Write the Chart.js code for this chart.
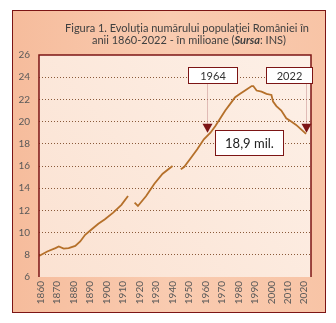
<!DOCTYPE html>
<html>
<head>
<meta charset="utf-8">
<script src="https://cdn.jsdelivr.net/npm/chart.js@4.4.1/dist/chart.umd.min.js"></script>
<style>
  html, body { margin: 0; padding: 0; background: #fff; }
  canvas { display: block; }
</style>
</head>
<body>
<canvas id="popChart" width="336" height="323"></canvas>
<script>
// population (millions) by year; null marks the war gaps
const years = [1860, 1865, 1870, 1872, 1875, 1878, 1882, 1885, 1888, 1892, 1896, 1900, 1905, 1910, 1914,
  1916,
  1918, 1920, 1925, 1930, 1935, 1941,
  1943,
  1946, 1948, 1952, 1956, 1960, 1964, 1967, 1970, 1973, 1976, 1979, 1982, 1985, 1989, 1990,
  1992, 1995, 1998, 2001, 2002, 2004, 2007, 2010, 2013, 2016, 2019, 2022];
const population = [7.9, 8.3, 8.6, 8.75, 8.55, 8.6, 8.8, 9.2, 9.8, 10.3, 10.8, 11.2, 11.8, 12.5, 13.3,
  null,
  12.7, 12.4, 13.3, 14.4, 15.3, 16.0,
  null,
  15.7, 15.9, 16.7, 17.5, 18.4, 19.0, 19.6, 20.3, 21.0, 21.6, 22.2, 22.5, 22.8, 23.2, 23.2,
  22.8, 22.7, 22.5, 22.4, 21.8, 21.4, 21.0, 20.3, 20.0, 19.7, 19.3, 18.9];

const yTicks = [6, 8, 10, 12, 14, 16, 18, 20, 22, 24, 26];
const xTickLabels = ["1860", "1870", "1880", "1890", "1900", "1910", "1920", "1930", "1940",
  "1950", "1960", "1970", "1980", "1990", "2000", "2010", "2020"];
const callouts = [
  { label: "1964", year: 1962, value: 18.9 },
  { label: "2022", year: 2022, value: 18.9 },
];
const lastValueLabel = "18,9 mil.";

const FONT = "Lato, 'Open Sans', sans-serif";
const DARK_RED = "#7c1515";

const points = years.map((y, i) => ({ x: y, y: population[i] }));

const framePlugin = {
  id: "frame",
  beforeDraw(chart) {
    const { ctx, chartArea: a } = chart;
    ctx.save();
    ctx.fillStyle = "#fff";
    ctx.fillRect(0, 0, chart.width, chart.height);

    // outer box
    const g = ctx.createLinearGradient(12, 0, 326, 0);
    g.addColorStop(0, "#f6bc9c");
    g.addColorStop(0.5, "#f9cbb0");
    g.addColorStop(1, "#f8c4a6");
    ctx.fillStyle = g;
    ctx.fillRect(12.5, 10.5, 313, 302);
    ctx.strokeStyle = DARK_RED;
    ctx.lineWidth = 1;
    ctx.strokeRect(12.5, 10.5, 313, 302);

    // plot area
    const pg = ctx.createLinearGradient(a.left, a.bottom, a.right, a.top);
    pg.addColorStop(0, "#fbe2d2");
    pg.addColorStop(1, "#fdf0e7");
    ctx.fillStyle = pg;
    ctx.fillRect(a.left, a.top, a.right - a.left, a.bottom - a.top);
    ctx.restore();
  },
  afterDraw(chart) {
    const { ctx, chartArea: a, scales } = chart;
    ctx.save();

    // plot frame: left, top, right
    ctx.strokeStyle = DARK_RED;
    ctx.lineWidth = 1.5;
    ctx.beginPath();
    ctx.moveTo(a.left, a.bottom);
    ctx.lineTo(a.left, a.top);
    ctx.lineTo(a.right, a.top);
    ctx.lineTo(a.right, a.bottom);
    ctx.stroke();

    // vertical year labels under the axis
    ctx.fillStyle = "#595959";
    ctx.font = "10px " + FONT;
    ctx.textAlign = "right";
    ctx.textBaseline = "middle";
    xTickLabels.forEach(lbl => {
      const x = scales.x.getPixelForValue(Number(lbl)) + 1.5;
      ctx.save();
      ctx.translate(x, a.bottom + 4);
      ctx.rotate(-Math.PI / 2);
      ctx.fillText(lbl, 0, 0);
      ctx.restore();
    });

    // callouts with arrows
    ctx.font = "11px " + FONT;
    ctx.textAlign = "center";
    ctx.textBaseline = "middle";
    callouts.forEach(c => {
      const x = Math.round(scales.x.getPixelForValue(c.year)) + 0.5;
      const tipY = scales.y.getPixelForValue(c.value) - 1;
      const boxW = c.label === "2022" ? 46 : 49;
      const boxL = c.label === "2022" ? x - 40 : x - 19;
      const boxTop = 67.5, boxH = 16;
      ctx.strokeStyle = "#c48a8a";
      ctx.lineWidth = 1;
      ctx.setLineDash([1, 1]);
      ctx.beginPath();
      ctx.moveTo(x, boxTop + boxH);
      ctx.lineTo(x, tipY - 8);
      ctx.stroke();
      ctx.setLineDash([]);
      ctx.fillStyle = DARK_RED;
      ctx.beginPath();
      ctx.moveTo(x - 5, tipY - 9);
      ctx.lineTo(x + 5, tipY - 9);
      ctx.lineTo(x, tipY);
      ctx.closePath();
      ctx.fill();
      ctx.fillStyle = "#fff";
      ctx.fillRect(boxL, boxTop, boxW, boxH);
      ctx.strokeStyle = DARK_RED;
      ctx.strokeRect(boxL, boxTop, boxW, boxH);
      ctx.fillStyle = "#333";
      ctx.fillText(c.label, boxL + boxW / 2, boxTop + boxH / 2 + 0.5);
    });

    // last value box
    ctx.fillStyle = "#fff";
    ctx.fillRect(215.5, 130.5, 68, 25);
    ctx.strokeStyle = DARK_RED;
    ctx.lineWidth = 1;
    ctx.strokeRect(215.5, 130.5, 68, 25);
    ctx.fillStyle = "#222";
    ctx.font = "13px " + FONT;
    ctx.fillText(lastValueLabel, 249.5, 143.5);

    // title
    ctx.fillStyle = "#404040";
    ctx.font = "11px " + FONT;
    ctx.fillText("Figura 1. Evoluția numărului populației României în", 187, 28);
    const parts = [
      ["anii 1860-2022 - în milioane (", "11px " + FONT],
      ["Sursa", "italic bold 11px " + FONT],
      [": INS)", "11px " + FONT],
    ];
    let total = 0;
    parts.forEach(p => { ctx.font = p[1]; total += ctx.measureText(p[0]).width; });
    let tx = 189 - total / 2;
    ctx.textAlign = "left";
    parts.forEach(p => {
      ctx.font = p[1];
      ctx.fillText(p[0], tx, 40);
      tx += ctx.measureText(p[0]).width;
    });
    ctx.restore();
  },
};

new Chart(document.getElementById("popChart"), {
  type: "line",
  data: {
    datasets: [{
      data: points,
      borderColor: "#b5702a",
      borderWidth: 1.8,
      pointRadius: 0,
      tension: 0,
      spanGaps: false,
    }],
  },
  options: {
    responsive: false,
    animation: false,
    layout: { padding: { left: 12, top: 55, right: 25, bottom: 10 } },
    plugins: { legend: { display: false }, tooltip: { enabled: false } },
    scales: {
      x: {
        type: "linear",
        min: 1860,
        max: 2025,
        afterFit: s => { s.height = 36; },
        grid: { display: false, drawTicks: false },
        border: { display: false },
        ticks: { display: false },
      },
      y: {
        min: 6,
        max: 26,
        afterFit: s => { s.width = 27; },
        afterBuildTicks: s => { s.ticks = yTicks.map(v => ({ value: v })); },
        grid: {
          drawTicks: false,
          lineWidth: 1,
          color: c => (c.tick && (c.tick.value === 6 || c.tick.value === 26)) ? "rgba(0,0,0,0)" : "#8a5a3a",
        },
        border: { display: false, dash: [1, 2] },
        ticks: {
          padding: 9,
          color: "#595959",
          font: { family: FONT, size: 10 },
        },
      },
    },
  },
  plugins: [framePlugin],
});
</script>
</body>
</html>
